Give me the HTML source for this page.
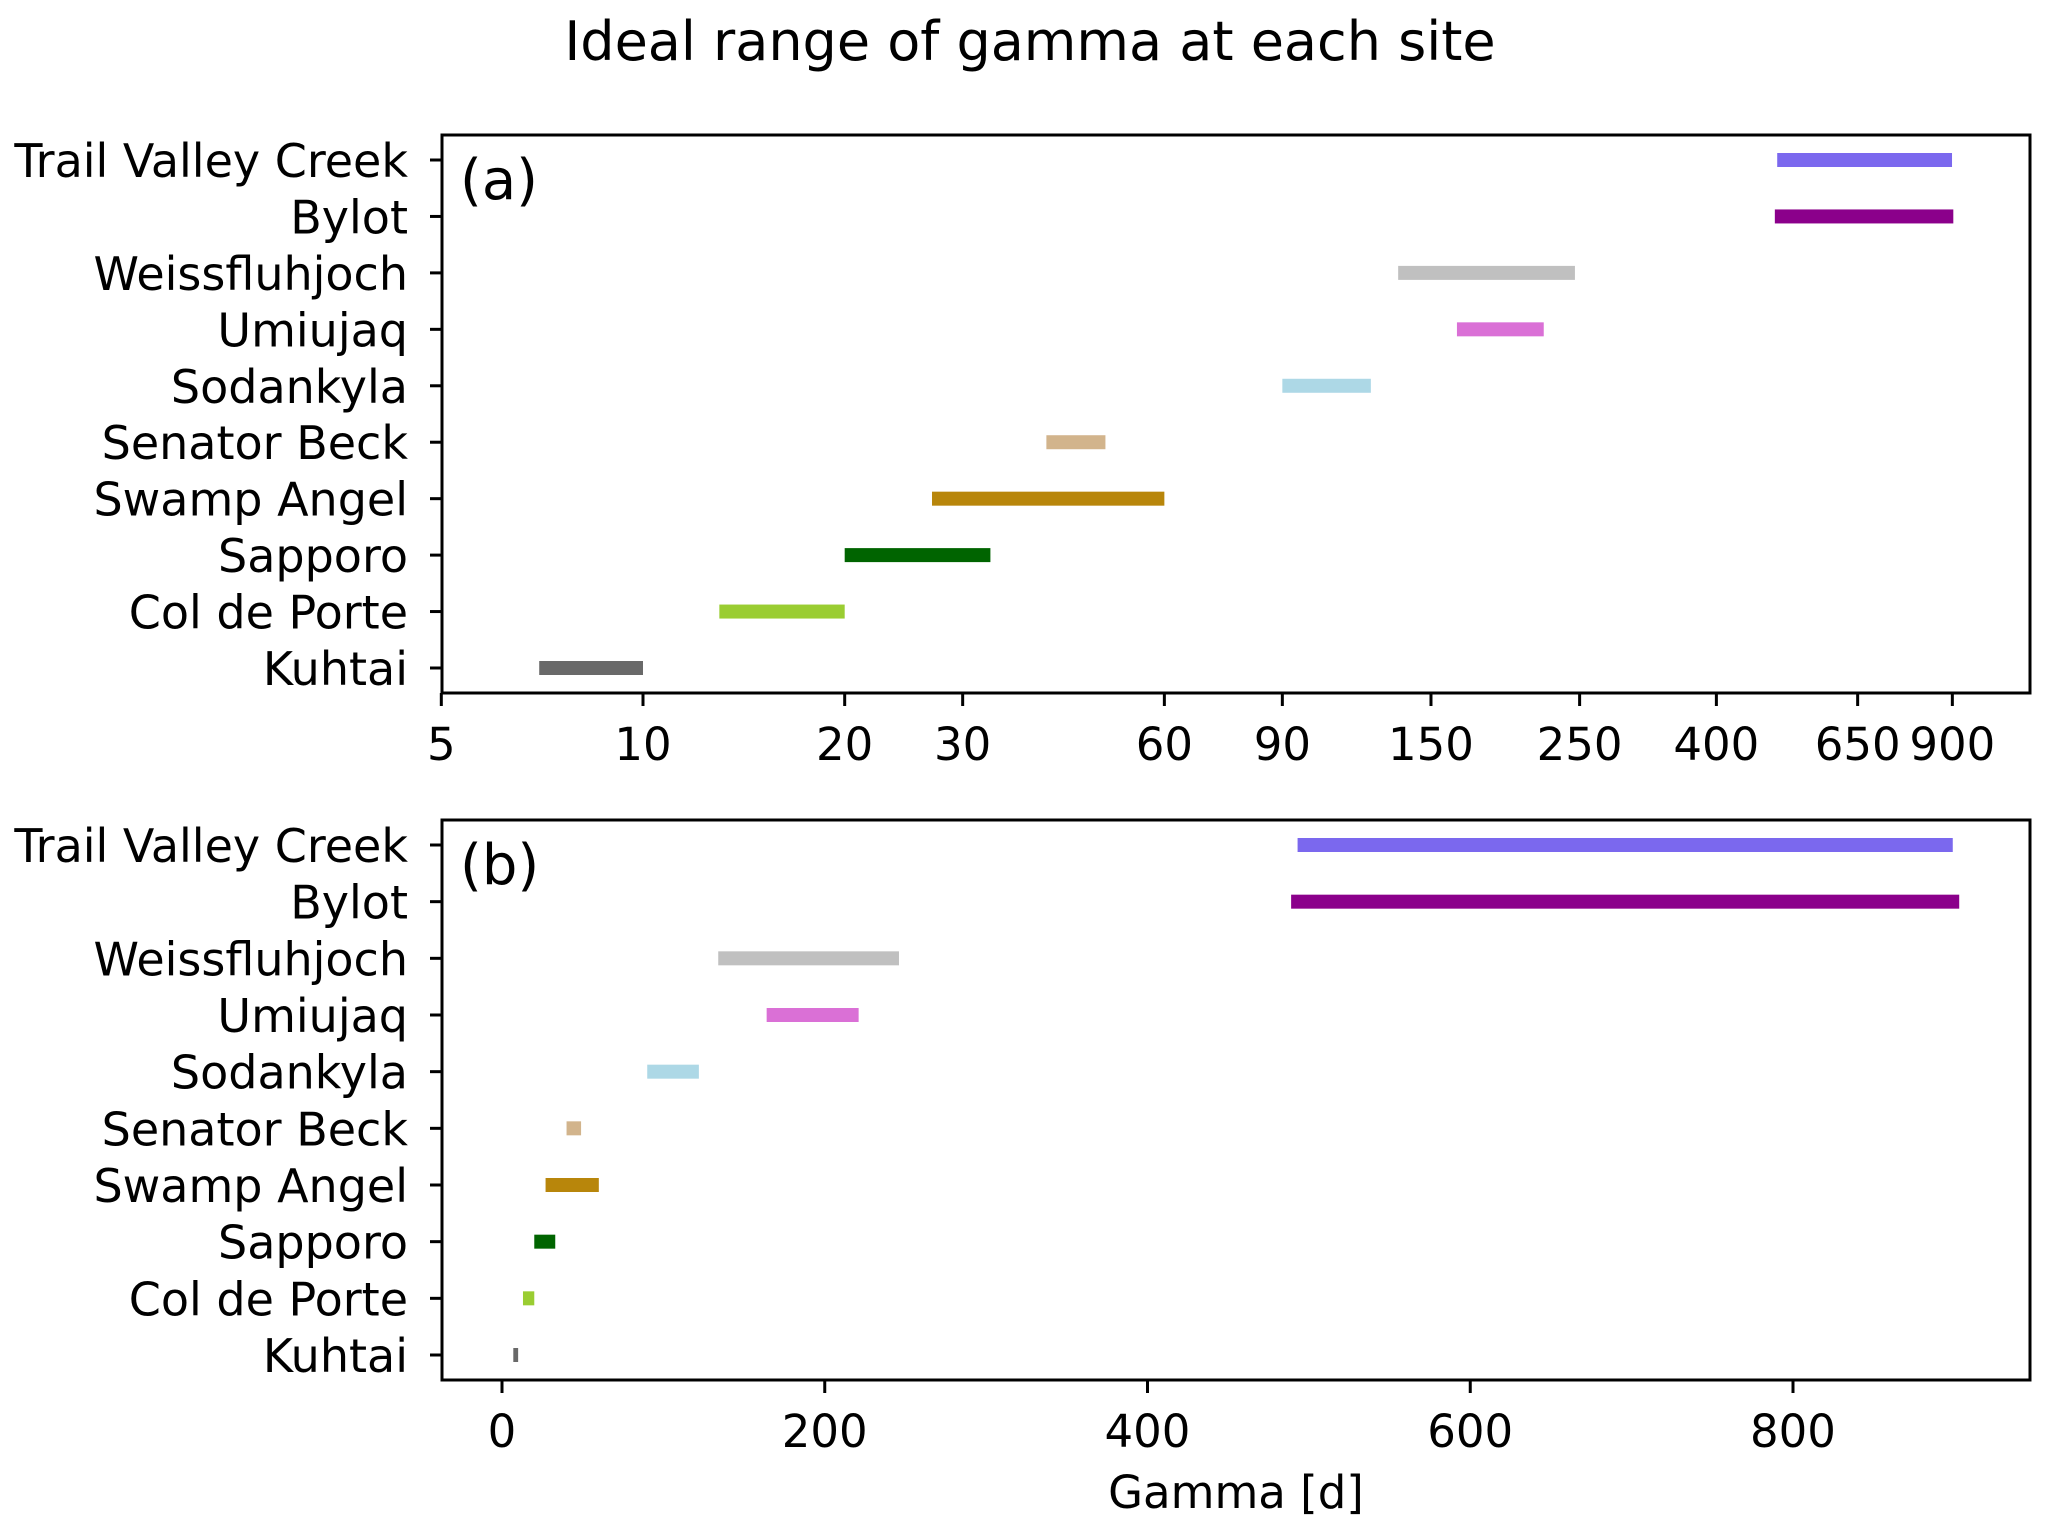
<!DOCTYPE html>
<html><head><meta charset="utf-8"><style>
html,body{margin:0;padding:0;background:#fff;}
svg text{font-family:"DejaVu Sans","Liberation Sans",sans-serif;fill:#000;}
</style></head><body>
<svg id="chart" width="2050" height="1533" viewBox="0 0 2050 1533" xmlns="http://www.w3.org/2000/svg">
<rect width="2050" height="1533" fill="#fff"/>
<text x="1030" y="60" font-size="54" text-anchor="middle">Ideal range of gamma at each site</text>
<g id="pa"></g>
<g id="pb"></g>
<text x="1236" y="1508" font-size="45" text-anchor="middle">Gamma [d]</text>
</svg>
<script>
const sites = ["Kuhtai","Col de Porte","Sapporo","Swamp Angel","Senator Beck","Sodankyla","Umiujaq","Weissfluhjoch","Bylot","Trail Valley Creek"];
const lowVals = [7,13,20,27,40,90,164,134,489,493];
const highVals = [10,20,33,60,49,122,221,246,903,899];
const colors = ["#696969","#9ACD32","#006400","#B8860B","#D2B48C","#ADD8E6","#DA70D6","#C0C0C0","#8B008B","#7B68EE"];
const logTicks = [5,10,20,30,60,90,150,250,400,650,900];
const linTicks = [0,200,400,600,800];

const NS="http://www.w3.org/2000/svg";
function mk(tag,attrs,parent){const e=document.createElementNS(NS,tag);for(const k in attrs)e.setAttribute(k,attrs[k]);parent.appendChild(e);return e;}
const L=442,R=2030;
function logX(v){return 643+670*Math.log10(v/10);}
function linX(v){return 502+v*(1793-502)/800;}

function panel(g,top,bottom,xf,ticks,tag,key){
  const y0=top+25, step=(bottom-top-50)/9;
  function yf(i){return y0+(9-i)*step;}
  for(let i=0;i<sites.length;i++){
    const r=mk('rect',{x:xf(lowVals[i]),y:yf(i)-7,width:Math.max(xf(highVals[i])-xf(lowVals[i]),3),height:14,fill:colors[i]},g);
    
    
    const tk=mk('line',{x1:L-12,x2:L,y1:yf(i),y2:yf(i),stroke:'#000','stroke-width':3},g);
    
    
    const t=mk('text',{x:408,y:yf(i)+17,'font-size':46,'text-anchor':'end'},g);
    t.textContent=sites[i];
    
    
  }
  for(const v of ticks){
    const x=xf(v);
    const tk=mk('line',{x1:x,x2:x,y1:bottom,y2:bottom+13,stroke:'#000','stroke-width':3},g);
    
    
    const t=mk('text',{x:x,y:bottom+67,'font-size':45,'text-anchor':'middle'},g);
    t.textContent=String(v);
    
    
  }
  const fr=mk('rect',{x:L,y:top,width:R-L,height:bottom-top,fill:'none',stroke:'#000','stroke-width':3},g);
  
  
  const lb=mk('text',{x:460,y:top+64,'font-size':56},g);
  lb.textContent=tag;
  
  
}
panel(document.getElementById('pa'),135,693,logX,logTicks,'(a)','a');
panel(document.getElementById('pb'),820,1380,linX,linTicks,'(b)','b');
</script>
</body></html>
